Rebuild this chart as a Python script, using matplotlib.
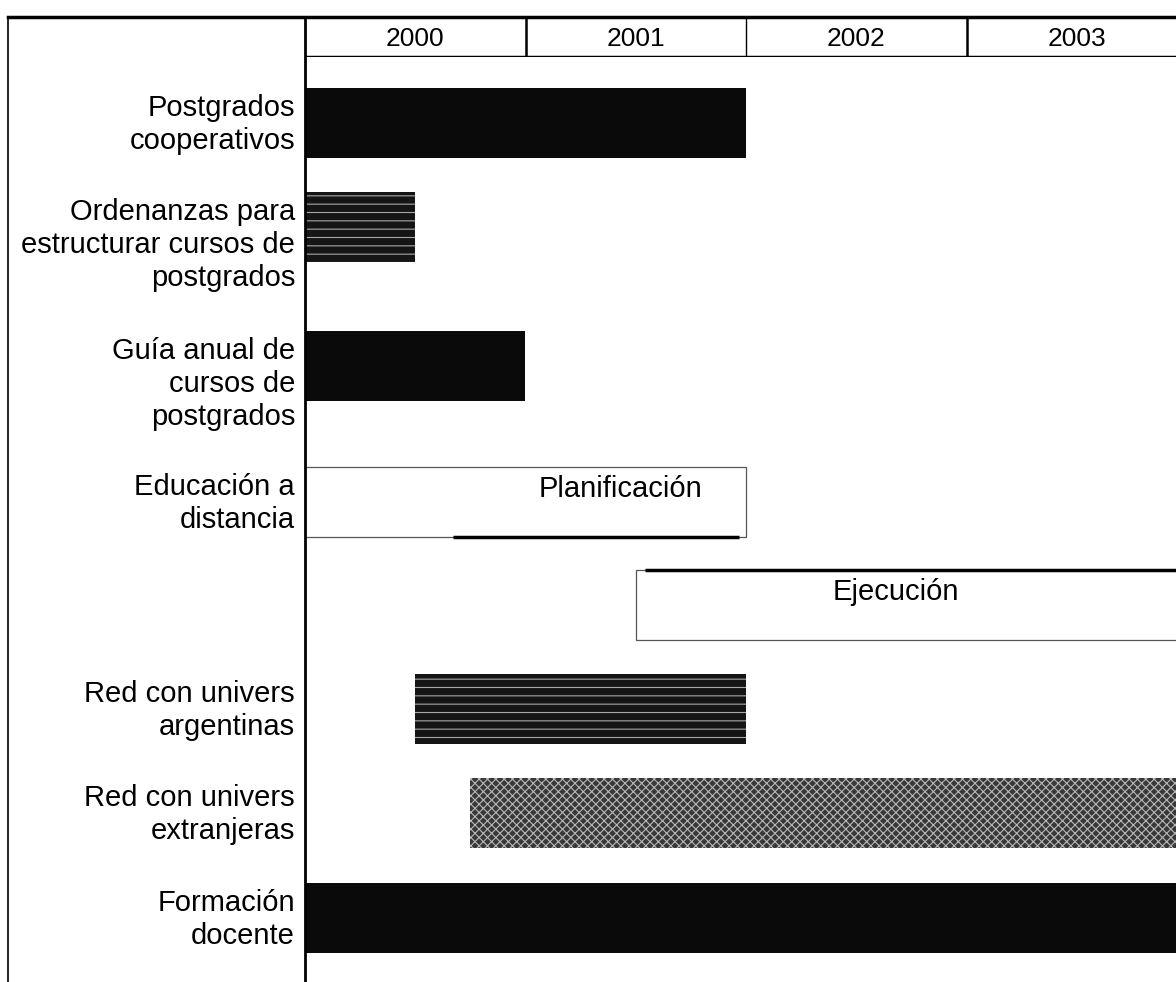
import matplotlib.pyplot as plt
from matplotlib.lines import Line2D

plt.rcParams['font.family'] = ['Liberation Sans', 'DejaVu Sans']
plt.rcParams['hatch.linewidth'] = 0.8

# years shown in the header
years = [2000, 2001, 2002, 2003]

# rows of the chart (top to bottom)
tasks = ['Postgrados\ncooperativos',
         'Ordenanzas para\nestructurar cursos de\npostgrados',
         'Guía anual de\ncursos de\npostgrados',
         'Educación a\ndistancia',
         '',
         'Red con univers\nargentinas',
         'Red con univers\nextranjeras',
         'Formación\ndocente']
start = [2000.0, 2000.0, 2000.0, 2000.0, 2001.5, 2000.5, 2000.75, 2000.0]
end = [2002.0, 2000.5, 2001.0, 2002.0, 2004.0, 2002.0, 2004.0, 2004.0]
phase = ['', '', '', 'Planificación', 'Ejecución', '', '', '']
phase_x = [None, None, None, 2001.43, 2002.68, None, None, None]
fill = ['solid', 'lines', 'solid', 'open', 'open', 'lines', 'stipple', 'solid']

# layout (pixel rows of the scanned page)
W, H = 1176, 982
row_y = [123, 227, 366, 502, 605, 709, 813, 918]
bar_h = 70
x0, head_top, head_bot = 305, 17, 57
px_per_year = 220.5
xmax = 2000 + (W - x0) / px_per_year

fig = plt.figure(figsize=(W / 100, H / 100), dpi=100)

ax = fig.add_axes([x0 / W, 0, (W - x0) / W, (H - head_bot) / H])
ax.set_xlim(2000, xmax)
ax.set_ylim(H, head_bot)
ax.axis('off')

for i in range(len(tasks)):
    w = end[i] - start[i]
    if fill[i] == 'solid':
        ax.barh(row_y[i], w, left=start[i], height=bar_h, color='#0a0a0a', linewidth=0)
    elif fill[i] == 'lines':
        ax.barh(row_y[i], w, left=start[i], height=bar_h, color='#151515',
                edgecolor='#a8a8a8', linewidth=0, hatch='--')
    elif fill[i] == 'stipple':
        ax.barh(row_y[i], w, left=start[i], height=bar_h, color='#383838',
                edgecolor='#b8b8b8', linewidth=0, hatch='xxxx')
    else:
        ax.barh(row_y[i], w, left=start[i], height=bar_h, color='white',
                edgecolor='#555555', linewidth=0.9)
    if phase[i]:
        ax.text(phase_x[i], row_y[i] - 13, phase[i], ha='center', va='center', fontsize=21)
    if tasks[i]:
        ax.text(-10 / (W - x0), row_y[i] - 29, tasks[i], transform=ax.get_yaxis_transform(),
                ha='right', va='top', multialignment='right', fontsize=21, linespacing=1.22,
                clip_on=False)

# heavier scan edges on the open boxes
ax.hlines(row_y[3] + bar_h / 2, start[3] + 0.67, end[3] - 0.03, color='black', linewidth=2.5)
ax.hlines(row_y[4] - bar_h / 2, start[4] + 0.04, end[4], color='black', linewidth=2.5)

# header with the years
hx = fig.add_axes([x0 / W, 1 - head_bot / H, (W - x0) / W, (head_bot - head_top) / H])
hx.set_xlim(2000, xmax)
hx.set_ylim(0, 1)
hx.axis('off')
for y in years:
    hx.text(y + 0.5, 0.45, str(y), ha='center', va='center', fontsize=19)
for y in years[1:]:
    hx.axvline(y, color='black', linewidth=1.8 if y != 2002 else 1.0)
hx.axhline(0, color='black', linewidth=2.5)

# page frame lines
fig.add_artist(Line2D([8 / W, 1], [1 - head_top / H] * 2, color='black', linewidth=2.5))
fig.add_artist(Line2D([8 / W, 8 / W], [0, 1 - head_top / H], color='black', linewidth=1.2))
fig.add_artist(Line2D([x0 / W, x0 / W], [0, 1 - head_top / H], color='black', linewidth=2.0))

fig.savefig('out.png', dpi=100)
